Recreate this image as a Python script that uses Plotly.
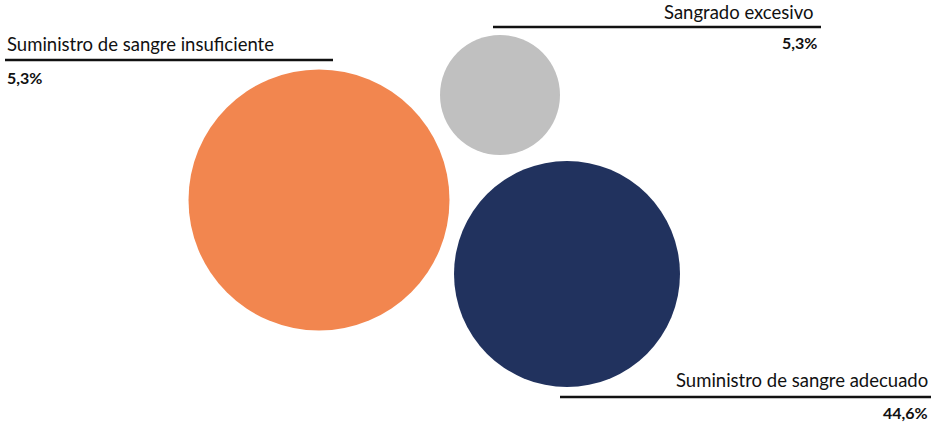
import plotly.graph_objects as go

# Data
categories = ["Suministro de sangre insuficiente", "Sangrado excesivo", "Suministro de sangre adecuado"]
pct_labels = ["5,3%", "5,3%", "44,6%"]
bubble_x = [319, 500, 567]
bubble_y = [200, 95, 274]
bubble_d = [261, 120, 226]
colors = ["#F2864F", "#C0C0C0", "#21325E"]

W, H = 942, 422
fig = go.Figure()
fig.add_trace(go.Scatter(
    x=bubble_x, y=bubble_y, mode="markers",
    marker=dict(size=bubble_d, sizemode="diameter", color=colors, line=dict(width=0), opacity=1),
    hoverinfo="text", text=[f"{c}: {p}" for c, p in zip(categories, pct_labels)],
    showlegend=False,
))

# label layout: (line x0, line x1, line y, title x, pct x, xanchor, title y, pct y)
label_pos = [
    (5, 333, 60, 5, 5, "left", 44, 77),
    (493, 821, 27, 816, 819, "right", 12, 42),
    (560, 931, 397, 930, 930, "right", 380, 412),
]
font_family = "Lato, 'Open Sans', sans-serif"
for (x0, x1, ly, tx, px, xa, ty, py), cat, pct in zip(label_pos, categories, pct_labels):
    fig.add_shape(type="line", x0=x0, x1=x1, y0=ly, y1=ly, xref="x", yref="y",
                  line=dict(color="#111111", width=2.5))
    fig.add_annotation(x=tx, y=ty, xref="x", yref="y", text=cat, showarrow=False,
                       xanchor=xa, yanchor="middle",
                       font=dict(family=font_family, size=18.5, color="#111111"))
    fig.add_annotation(x=px, y=py, xref="x", yref="y", text=f"<b>{pct}</b>", showarrow=False,
                       xanchor=xa, yanchor="middle",
                       font=dict(family=font_family, size=16, color="#111111"))

fig.update_layout(
    width=W, height=H, margin=dict(l=0, r=0, t=0, b=0),
    paper_bgcolor="white", plot_bgcolor="white",
    xaxis=dict(range=[0, W], visible=False, fixedrange=True),
    yaxis=dict(range=[H, 0], visible=False, fixedrange=True),
)
fig.write_html("out.html")
